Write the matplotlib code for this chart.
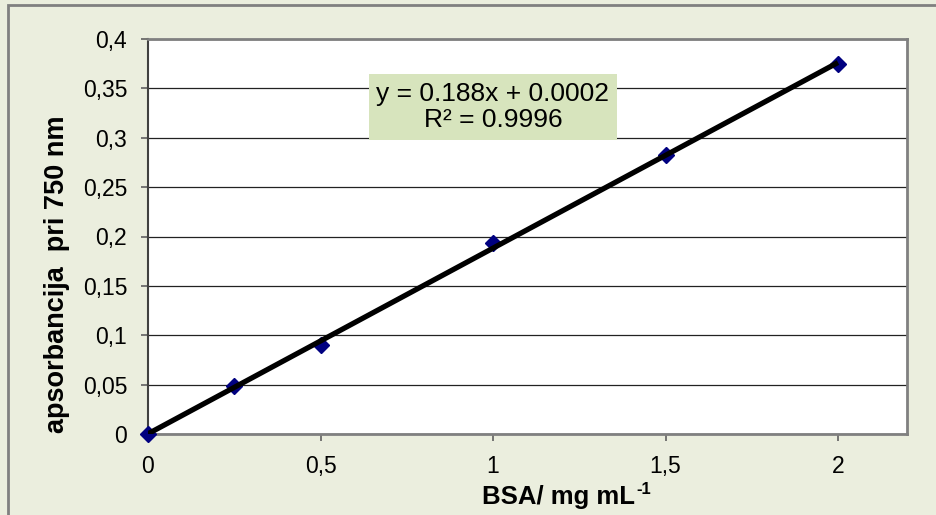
import matplotlib
matplotlib.use("Agg")
import matplotlib.pyplot as plt
from matplotlib.patches import Rectangle
import numpy as np

# BSA calibration points
bsa_conc = [0, 0.25, 0.5, 1, 1.5, 2]
absorbance = [0, 0.0486, 0.090, 0.1935, 0.2825, 0.3747]

# trendline as shown on the chart
slope = 0.188
intercept = 0.0002
r_squared = 0.9996

x_ticks = [0, 0.5, 1, 1.5, 2]
x_tick_labels = ["0", "0,5", "1", "1,5", "2"]
y_ticks = [0, 0.05, 0.1, 0.15, 0.2, 0.25, 0.3, 0.35, 0.4]
y_tick_labels = ["0", "0,05", "0,1", "0,15", "0,2", "0,25", "0,3", "0,35", "0,4"]

plt.rcParams['font.family'] = ['Liberation Sans', 'DejaVu Sans']

fig = plt.figure(figsize=(9.36, 5.15), dpi=100)
fig.patch.set_facecolor('#EBEEDE')
# outer chart border (cut off on the right and bottom)
fig.patches.append(Rectangle((8 / 936, -0.05), 1.2, 1 - 5 / 515 + 0.05,
                             transform=fig.transFigure, fill=False,
                             edgecolor='#808080', linewidth=2))

ax = fig.add_axes([148 / 936, 1 - 434 / 515, 759 / 936, 395 / 515])
ax.set_facecolor('white')

ax.set_xlim(0, 2.2)
ax.set_ylim(0, 0.4)
ax.set_xticks(x_ticks)
ax.set_xticklabels(x_tick_labels)
ax.set_yticks(y_ticks)
ax.set_yticklabels(y_tick_labels)
ax.tick_params(axis='both', direction='out', length=5, width=1.2,
               color='#606060', labelsize=16.5, pad=10)
ax.yaxis.grid(True, color='#222222', linewidth=0.9)
ax.set_axisbelow(True)

for side in ['top', 'right', 'bottom']:
    ax.spines[side].set_color('#808080')
    ax.spines[side].set_linewidth(2)
ax.spines['left'].set_color('#404040')
ax.spines['left'].set_linewidth(1.5)

ax.plot(bsa_conc, absorbance, linestyle='none', marker='D', markersize=8,
        color='#000080', zorder=6, clip_on=False)

xs = np.array([0, 2])
ax.plot(xs, slope * xs + intercept, color='black', linewidth=3.8,
        solid_capstyle='butt', zorder=7)

ax.text(1.0, 0.331, f"y = {slope}x + {intercept}\nR² = {r_squared}",
        fontsize=19, ha='center', va='center', linespacing=1.1,
        bbox=dict(boxstyle='square,pad=0.3', facecolor='#D7E4BD',
                  edgecolor='none'), zorder=8)

ax.set_ylabel("apsorbancija  pri 750 nm", fontsize=19.5, fontweight='bold')
ax.yaxis.set_label_coords(-0.103, 0.405)

xlab = ax.text(0.541, -0.129, "BSA/ mg mL", transform=ax.transAxes,
               fontsize=18.5, fontweight='bold', ha='center', va='top')
ax.annotate("-1", xy=(1, 1), xycoords=xlab, xytext=(1, 2),
            textcoords='offset points', fontsize=12, fontweight='bold',
            ha='left', va='top')

fig.savefig("out.png", dpi=100, facecolor=fig.get_facecolor())
